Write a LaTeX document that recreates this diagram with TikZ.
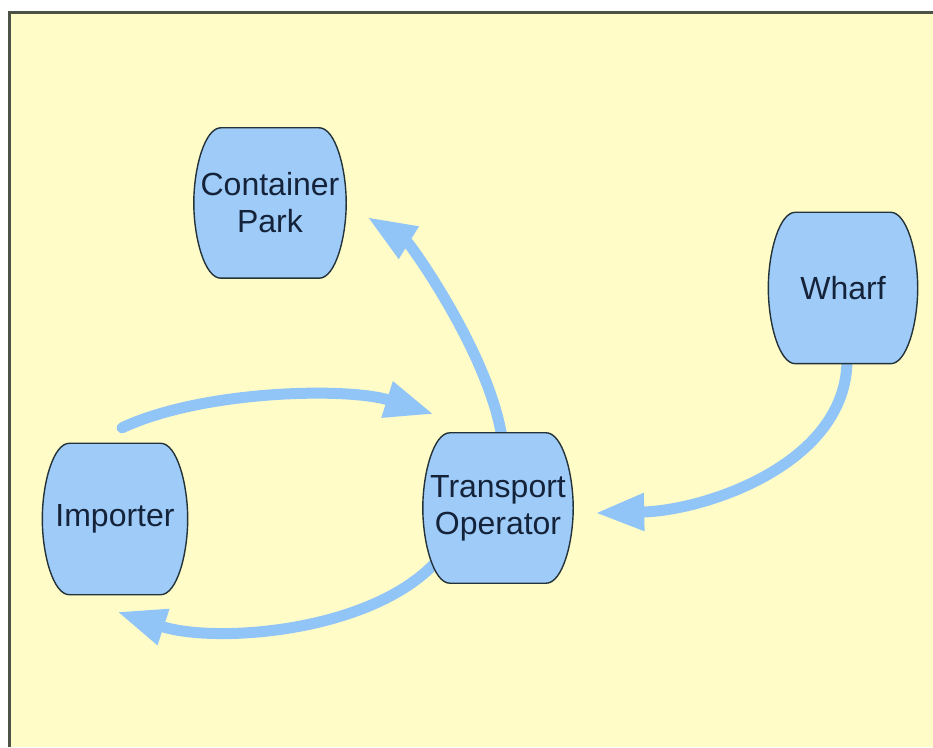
\documentclass[tikz,border=0pt]{standalone}
\usepackage{fontspec}
\setmainfont{Liberation Sans}
\usetikzlibrary{arrows.meta,calc,backgrounds}

\definecolor{paper}{HTML}{FFFCC8}
\definecolor{framegray}{HTML}{4D5247}
\definecolor{nodeblue}{HTML}{9ECBF8}
\definecolor{flowblue}{HTML}{92C5F7}
\definecolor{nodeedge}{HTML}{24333A}
\definecolor{nodetext}{HTML}{15233A}

\begin{document}
\begin{tikzpicture}[x=1pt,y=1pt,
  station/.style={rectangle, inner sep=0pt, minimum width=150pt, minimum height=150pt,
    align=center, font=\fontsize{32}{37}\selectfont, text=nodetext},
  flow/.style={line width=11pt, draw=flowblue, line cap=round,
    -{Triangle[length=49pt,width=35pt]}},
  barrel/.style={fill=nodeblue, draw=nodeedge, line width=1.4pt}
]
\useasboundingbox (0,0) rectangle (933,747);

% stations
\node[station, minimum width=152pt] (cp) at (270,544) {Container\\Park};
\node[station, minimum width=149pt, minimum height=151pt] (wh) at (843,459) {Wharf};
\node[station, minimum width=145pt, minimum height=151pt] (im) at (115,228) {Importer};
\node[station] (to) at (498,239) {Transport\\Operator};

\begin{scope}[on background layer]
  % sheet and frame
  \fill[white] (0,0) rectangle (933,747);
  \fill[paper] (9.5,0) rectangle (933,734.5);
  \draw[framegray, line width=3pt] (9.5,0) -- (9.5,734.5) -- (933,734.5);

  % flows between stations
  \draw[flow] ($(im.north)+(7,15.5)$) .. controls +(81.5,38) and +(-85.6,27)
    .. ($(to.north west)+(11,18.6)$);
  \draw[flow] ($(to.north)+(4,-5)$) .. controls +(-13,84) and +(42.7,-26.4)
    .. ($(cp.east)+(21,-14)$);
  \draw[flow] ($(to.south west)+(14,22)$) .. controls +(-66,-72) and +(97,-32)
    .. ($(im.south)+(2,-17)$);
  \draw[flow] ($(wh.south)+(4,4)$) .. controls +(0,-104) and +(110,2.2)
    .. ($(to.east)+(22,-5)$);

  % barrel outlines of the stations
  \foreach \n in {cp,wh,im,to} {
    \draw[barrel] ($(\n.north west)+(27,0)$) -- ($(\n.north east)+(-27,0)$)
      .. controls ($(\n.north east)+(-11,0)$) and ($(\n.north east)+(0,-40)$) .. (\n.east)
      .. controls ($(\n.south east)+(0,40)$) and ($(\n.south east)+(-11,0)$) .. ($(\n.south east)+(-27,0)$)
      -- ($(\n.south west)+(27,0)$)
      .. controls ($(\n.south west)+(11,0)$) and ($(\n.south west)+(0,40)$) .. (\n.west)
      .. controls ($(\n.north west)+(0,-40)$) and ($(\n.north west)+(11,0)$) .. cycle;
  }
\end{scope}
\end{tikzpicture}
\end{document}
